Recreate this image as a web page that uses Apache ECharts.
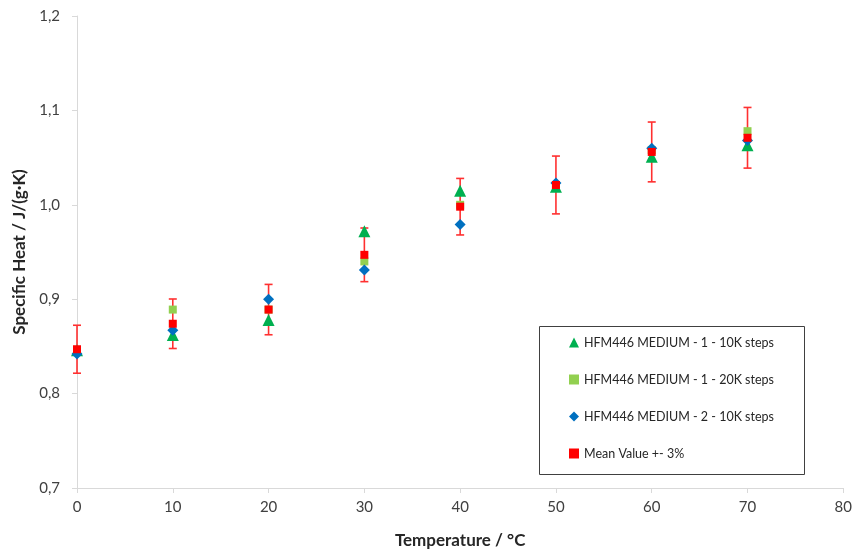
<!DOCTYPE html>
<html>
<head>
<meta charset="utf-8">
<script src="https://cdn.jsdelivr.net/npm/echarts@6/dist/echarts.min.js"></script>
<style>
  html, body { margin: 0; padding: 0; background: #fff; }
  #chart { width: 855px; height: 554px; }
</style>
</head>
<body>
<div id="chart"></div>
<script>
// data
var temps = [0, 10, 20, 30, 40, 50, 60, 70];
var run1_10k = [0.846, 0.862, 0.878, 0.972, 1.015, 1.019, 1.051, 1.063];
var run1_20k = [0.846, 0.889, 0.889, 0.940, 1.000, 1.021, 1.058, 1.078];
var run2_10k = [0.842, 0.867, 0.900, 0.931, 0.979, 1.023, 1.060, 1.068];
var meanVal = [0.847, 0.874, 0.889, 0.947, 0.998, 1.021, 1.056, 1.071];
var errPct = 0.03; // "+- 3%"
var yTicks = [0.7, 0.8, 0.9, 1.0, 1.1, 1.2];

var font = 'Lato, "Liberation Sans", sans-serif';

function pairs(ys) {
    return temps.map(function (t, i) { return [t, ys[i]]; });
}

var errData = temps.map(function (t, i) {
    return [t, meanVal[i] * (1 - errPct), meanVal[i] * (1 + errPct)];
});

var myChart = echarts.init(document.getElementById('chart'));

var option = {
    backgroundColor: '#fff',
    animation: false,
    textStyle: { fontFamily: font },
    grid: { left: 77, right: 10, top: 16, bottom: 64 },
    legend: {
        orient: 'vertical',
        left: 564,
        top: 331,
        itemWidth: 10,
        itemHeight: 10,
        itemGap: 24,
        textStyle: { fontFamily: font, fontSize: 12.5, color: '#262626' },
        data: ['HFM446 MEDIUM - 1 - 10K steps', 'HFM446 MEDIUM - 1 - 20K steps',
               'HFM446 MEDIUM - 2 - 10K steps', 'Mean Value +- 3%']
    },
    graphic: [{
        type: 'rect',
        left: 537, top: 324,
        shape: { width: 265, height: 148 },
        style: { fill: 'none', stroke: '#404040', lineWidth: 1 },
        z: 100
    }],
    xAxis: {
        type: 'value',
        min: 0, max: 80, interval: 10,
        name: 'Temperature / °C',
        nameLocation: 'middle',
        nameGap: 44,
        nameTextStyle: { fontFamily: font, fontSize: 17, fontWeight: 'bold', color: '#262626' },
        axisLine: { onZero: false, lineStyle: { color: '#d9d9d9', width: 1 } },
        axisTick: { show: true, length: 5, lineStyle: { color: '#d9d9d9' } },
        axisLabel: { fontFamily: font, fontSize: 15, color: '#404040', margin: 12 },
        splitLine: { show: false }
    },
    yAxis: {
        type: 'value',
        min: 0.7, max: 1.2, interval: 0.1,
        name: 'Specific Heat / J/(g·K)',
        nameLocation: 'middle',
        nameGap: 48,
        nameTextStyle: { fontFamily: font, fontSize: 17, fontWeight: 'bold', color: '#262626' },
        axisLine: { show: true, lineStyle: { color: '#d9d9d9', width: 1 } },
        axisTick: { show: true, length: 5, lineStyle: { color: '#d9d9d9' } },
        axisLabel: {
            fontFamily: font, fontSize: 15, color: '#404040', margin: 17,
            formatter: function (v) {
                var t = yTicks.find(function (k) { return Math.abs(k - v) < 1e-6; });
                return (t !== undefined ? t : v).toFixed(1).replace('.', ',');
            }
        },
        splitLine: { show: false }
    },
    series: [
        {
            name: 'err',
            type: 'custom',
            z: 1,
            data: errData,
            renderItem: function (params, api) {
                var lo = api.coord([api.value(0), api.value(1)]);
                var hi = api.coord([api.value(0), api.value(2)]);
                var w = 4;
                var st = { stroke: '#ff3030', lineWidth: 1.6 };
                return {
                    type: 'group',
                    children: [
                        { type: 'line', shape: { x1: lo[0], y1: lo[1], x2: hi[0], y2: hi[1] }, style: st },
                        { type: 'line', shape: { x1: lo[0] - w, y1: lo[1], x2: lo[0] + w, y2: lo[1] }, style: st },
                        { type: 'line', shape: { x1: hi[0] - w, y1: hi[1], x2: hi[0] + w, y2: hi[1] }, style: st }
                    ]
                };
            }
        },
        {
            name: 'HFM446 MEDIUM - 1 - 10K steps',
            type: 'scatter',
            z: 2,
            symbol: 'triangle',
            symbolSize: 12,
            itemStyle: { color: '#00b050', opacity: 1 },
            data: pairs(run1_10k)
        },
        {
            name: 'HFM446 MEDIUM - 1 - 20K steps',
            type: 'scatter',
            z: 3,
            symbol: 'rect',
            symbolSize: 8,
            itemStyle: { color: '#92d050', opacity: 1 },
            data: pairs(run1_20k)
        },
        {
            name: 'HFM446 MEDIUM - 2 - 10K steps',
            type: 'scatter',
            z: 4,
            symbol: 'diamond',
            symbolSize: 11,
            itemStyle: { color: '#0070c0', opacity: 1 },
            data: pairs(run2_10k)
        },
        {
            name: 'Mean Value +- 3%',
            type: 'scatter',
            z: 5,
            symbol: 'rect',
            symbolSize: 8,
            itemStyle: { color: '#ff0000', opacity: 1 },
            data: pairs(meanVal)
        }
    ]
};

myChart.setOption(option);
</script>
</body>
</html>
